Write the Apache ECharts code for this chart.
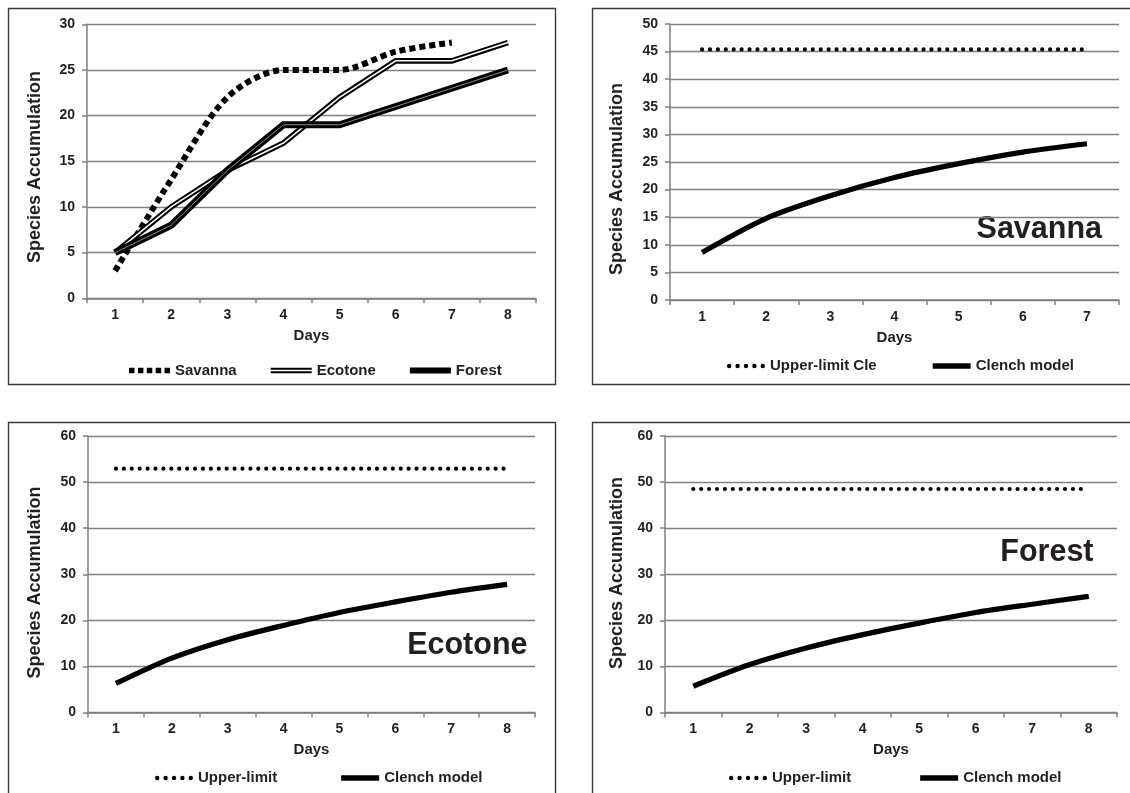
<!DOCTYPE html>
<html><head><meta charset="utf-8">
<script src="https://cdn.jsdelivr.net/npm/echarts@6/dist/echarts.min.js"></script>
<style>html,body{margin:0;padding:0;background:#fff;}#c{width:1130px;height:793px;}</style>
</head><body><div id="c"></div>
<script>
// ---- data ----
const days8 = ['1','2','3','4','5','6','7','8'];
const days7 = ['1','2','3','4','5','6','7'];
const savanna = [3, 13, 22, 25, 25, 27, 28];
const ecotone = [5, 10, 14, 17, 22, 26, 26, 28];
const forest  = [5, 8, 14, 19, 19, 21, 23, 25];
const savUpper  = [45.4, 45.4, 45.4, 45.4, 45.4, 45.4, 45.4];
const savClench = [8.6, 14.8, 18.9, 22.2, 24.7, 26.8, 28.3];
const ecoUpper  = [52.9, 52.9, 52.9, 52.9, 52.9, 52.9, 52.9, 52.9];
const ecoClench = [6.3, 11.8, 15.8, 18.9, 21.7, 24.0, 26.1, 27.8];
const forUpper  = [48.5, 48.5, 48.5, 48.5, 48.5, 48.5, 48.5, 48.5];
const forClench = [5.7, 10.4, 14.0, 16.9, 19.4, 21.7, 23.5, 25.2];
const yMaxes = [30, 50, 60, 60];
const ySteps = [5, 5, 10, 10];
const panelTitles = ['Savanna', 'Ecotone', 'Forest'];
const yTitle = 'Species Accumulation';
const xTitle = 'Days';

// ---- styles ----
const FONT = '"Liberation Sans", Arial, sans-serif';
const TXT = '#231f20';
const GRID = '#808080';

const grids = [
  {left: 87,  top: 24.3, width: 449, height: 274},
  {left: 670, top: 24,   width: 449, height: 276},
  {left: 88,  top: 436,  width: 447, height: 276.5},
  {left: 665, top: 436,  width: 452, height: 276.5}
];
const cats = [days8, days7, days8, days8];

const xAxes = cats.map((c, i) => ({
  type: 'category', gridIndex: i, data: c, boundaryGap: true,
  name: xTitle, nameLocation: 'middle', nameGap: 30,
  nameTextStyle: {fontFamily: FONT, fontWeight: 'bold', fontSize: 15, color: TXT},
  axisLine: {lineStyle: {color: GRID, width: 1.5}},
  axisTick: {show: true, length: 5, lineStyle: {color: GRID, width: 1.5}},
  axisLabel: {margin: 10, fontFamily: FONT, fontWeight: 'bold', fontSize: 14, color: TXT},
  splitLine: {show: false}
}));
const yAxes = yMaxes.map((m, i) => ({
  type: 'value', gridIndex: i, min: 0, max: m, interval: ySteps[i],
  axisLine: {show: true, lineStyle: {color: GRID, width: 1.5}},
  axisTick: {show: true, length: 5, lineStyle: {color: GRID, width: 1.5}},
  axisLabel: {margin: 12, fontFamily: FONT, fontWeight: 'bold', fontSize: 14, color: TXT},
  splitLine: {show: true, lineStyle: {color: GRID, width: 1.4}}
}));

function line(name, data, idx, ls, extra) {
  return Object.assign({
    type: 'line', name: name, data: data, xAxisIndex: idx, yAxisIndex: idx,
    color: '#000', symbol: 'none', silent: true, animation: false,
    lineStyle: Object.assign({color: '#000'}, ls)
  }, extra || {});
}
const dotStyle = {width: 4.2, type: [0.01, 7.9], cap: 'round'};
const clenchStyle = {width: 5.2, cap: 'butt'};

const series = [
  line('Savanna', savanna, 0, {width: 6, type: [6, 4]}, {smooth: 0.3}),
  line('Ecotone', ecotone, 0, {width: 5.6, join: 'miter'}),
  line('Ecotone-inner', ecotone, 0, {width: 1.5, color: '#fff', join: 'miter'}),
  line('Forest', forest, 0, {width: 7, join: 'miter'}),
  line('Forest-inner', forest, 0, {width: 1, color: '#8a8a8a', join: 'miter'}),
  line('Upper-limit Cle', savUpper, 1, dotStyle),
  line('Clench model', savClench, 1, clenchStyle, {smooth: 0.3}),
  line('Upper-limit', ecoUpper, 2, dotStyle),
  line('Clench model', ecoClench, 2, clenchStyle, {smooth: 0.3}),
  line('Upper-limit', forUpper, 3, dotStyle),
  line('Clench model', forClench, 3, clenchStyle, {smooth: 0.3})
];

// legend icon shapes
const iconSav = 'path://M0,0 M41,8 M0,1.3h5.5v5.4h-5.5z M8.9,1.3h5.5v5.4h-5.5z M17.8,1.3h5.5v5.4h-5.5z M26.7,1.3h5.5v5.4h-5.5z M35.5,1.3h5.5v5.4h-5.5z';
const iconEco = 'path://M0,0 M41,8 M0,1.2h41v2h-41z M0,4.8h41v2h-41z';
const iconFor = 'path://M0,0 M41,8 M0,1h41v6h-41z';
function dots() {
  let p = 'path://M0,0 M38,8';
  [2.2, 10.6, 19, 27.4, 35.8].forEach(c => {
    p += ' M' + (c - 2.2) + ',4a2.2,2.2 0 1,0 4.4,0a2.2,2.2 0 1,0 -4.4,0z';
  });
  return p;
}
const iconDots = dots();
const iconClench = 'path://M0,0 M38,8 M0,1.3h38v5.4h-38z';

const legendBase = {
  orient: 'horizontal', padding: 0, itemHeight: 8, selectedMode: false,
  itemStyle: {borderWidth: 0, color: '#000'},
  textStyle: {fontFamily: FONT, fontWeight: 'bold', fontSize: 15, color: TXT}
};
const legends = [
  Object.assign({}, legendBase, {left: 129, top: 363, itemWidth: 41, itemGap: 34,
    data: [{name: 'Savanna', icon: iconSav}, {name: 'Ecotone', icon: iconEco}, {name: 'Forest', icon: iconFor}]}),
  Object.assign({}, legendBase, {left: 727, top: 358.5, itemWidth: 38, itemGap: 56,
    data: [{name: 'Upper-limit Cle', icon: iconDots}, {name: 'Clench model', icon: iconClench}]}),
  Object.assign({}, legendBase, {left: 155, top: 770.5, itemWidth: 38, itemGap: 64,
    data: [{name: 'Upper-limit', icon: iconDots}, {name: 'Clench model', icon: iconClench}]}),
  Object.assign({}, legendBase, {left: 729, top: 770.5, itemWidth: 38, itemGap: 69,
    data: [{name: 'Upper-limit', icon: iconDots}, {name: 'Clench model', icon: iconClench}]})
];

function box(x, y, w, h) {
  return {type: 'rect', shape: {x: x, y: y, width: w, height: h}, silent: true,
    style: {fill: 'none', stroke: '#3a3a3a', lineWidth: 1.4}};
}
function ytitle(x, y) {
  return {type: 'text', x: x, y: y, rotation: Math.PI / 2, silent: true,
    style: {text: yTitle, align: 'center', verticalAlign: 'middle', fill: TXT,
      font: 'bold 18px ' + FONT}};
}
function ptitle(t, x, y) {
  return {type: 'text', x: x, y: y, silent: true,
    style: {text: t, align: 'right', verticalAlign: 'middle', fill: TXT,
      font: 'bold 30.5px ' + FONT}};
}

const option = {
  backgroundColor: '#fff',
  animation: false,
  grid: grids,
  xAxis: xAxes,
  yAxis: yAxes,
  legend: legends,
  series: series,
  graphic: [
    box(8.5, 8.5, 547, 376),
    box(592.5, 8.5, 560, 376),
    box(8.5, 422.5, 547, 400),
    box(592.5, 422.5, 560, 400),
    ytitle(35, 167), ytitle(617, 179), ytitle(35.5, 582.5), ytitle(617, 573),
    ptitle(panelTitles[0], 1102, 230),
    ptitle(panelTitles[1], 527.5, 645.5),
    ptitle(panelTitles[2], 1093.5, 552.5)
  ]
};
const chart = echarts.init(document.getElementById('c'), null, {renderer: 'canvas'});
chart.setOption(option);
</script></body></html>
